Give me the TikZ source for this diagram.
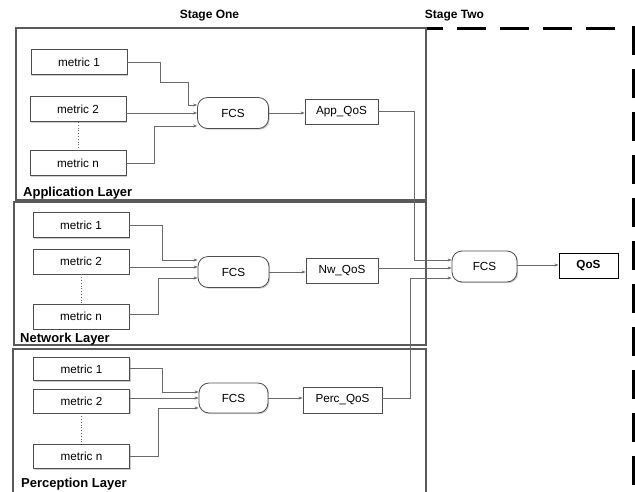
\documentclass[tikz,border=0pt]{standalone}
\usepackage{fontspec}
\setmainfont{Liberation Sans}
\usetikzlibrary{shadows,arrows.meta}
\definecolor{layergray}{HTML}{5A5A5A}
\definecolor{boxgray}{HTML}{4D4D4D}
\definecolor{conngray}{HTML}{6A6A6A}
\tikzset{
  boxshadow/.style={drop shadow={shadow xshift=1.2pt,shadow yshift=-1.2pt,fill=black!40,opacity=0.5}},
  metricbox/.style={draw=boxgray,line width=0.8pt,fill=white,boxshadow,minimum width=96pt,minimum height=25pt,inner sep=0pt,font=\fontsize{11.7}{13}\selectfont},
  fcsbox/.style={draw=boxgray,line width=0.8pt,fill=white,boxshadow,rounded corners=10pt,minimum width=71pt,minimum height=31pt,inner sep=0pt,font=\fontsize{11.7}{13}\selectfont},
  qosbox/.style={draw=boxgray,line width=0.8pt,fill=white,boxshadow,minimum width=73pt,minimum height=25pt,inner sep=0pt,font=\fontsize{11.7}{13}\selectfont},
  conn/.style={draw=conngray,line width=0.6pt,-{Stealth[length=4pt,width=3pt]}},
  dotline/.style={draw=conngray,line width=0.8pt,dotted},
  layerbox/.style={draw=layergray,line width=2.6pt},
  layerlabel/.style={anchor=base west,inner sep=0pt,font=\fontsize{13}{14}\selectfont\bfseries},
  stagelabel/.style={inner sep=0pt,font=\fontsize{12}{13}\selectfont\bfseries},
  stagetwo/.style={draw=black,line width=3pt},
}
\begin{document}
\begin{tikzpicture}[x=1pt,y=-1pt]
\useasboundingbox (0,0) rectangle (635,491);
% stage titles
\node[stagelabel] (s1) at (209.5,16) {Stage One};
\node[stagelabel] (s2) at (454.5,16) {Stage Two};
% stage two dashed frame
\draw[stagetwo,dash pattern=on 29pt off 14pt,dash phase=12pt] (426,28) -- (619,28);
\draw[stagetwo,dash pattern=on 29pt off 14pt] (633,26) -- (633,500);
% layer boxes
\draw[layerbox] (16,28) rectangle (426,200);
\draw[layerbox] (14,202) rectangle (426,345);
\draw[layerbox] (13,349) rectangle (426,510);
\node[layerlabel] (la) at (23,196) {Application Layer};
\node[layerlabel] (ln) at (20,342) {Network Layer};
\node[layerlabel] (lp) at (21,487) {Perception Layer};

% ---------- Application layer
\node[metricbox] (a1) at (79,62) {metric 1};
\node[metricbox] (a2) at (78,109) {metric 2};
\node[metricbox] (an) at (78,163) {metric n};
\node[fcsbox] (afcs) at (233,113) {FCS};
\node[qosbox] (aq) at (341.5,111.5) {App\_QoS};
\draw[dotline] (a2.south) -- (an.north);
\draw[conn] (a1.east) -- (160,62) -- (160,82) -- (188,82) -- (188,105) -- (afcs.west |- 0,105);
\draw[conn] (a2.east |- 0,113) -- (afcs.west |- 0,113);
\draw[conn] (an.east) -- (154,163) -- (154,126) -- (afcs.west |- 0,126);
\draw[conn] (afcs.east) -- (aq.west |- afcs.east);

% ---------- Network layer
\node[metricbox] (n1) at (81,225) {metric 1};
\node[metricbox] (n2) at (81,261.5) {metric 2};
\node[metricbox] (nn) at (81,316.5) {metric n};
\node[fcsbox] (nfcs) at (233.5,272) {FCS};
\node[qosbox,minimum width=72pt] (nq) at (342,270.5) {Nw\_QoS};
\draw[dotline] (n2.south) -- (nn.north);
\draw[conn] (n1.east) -- (162,225) -- (162,260) -- (nfcs.west |- 0,260);
\draw[conn] (n2.east |- 0,267) -- (nfcs.west |- 0,267);
\draw[conn] (nn.east |- 0,314) -- (158,314) -- (158,278) -- (nfcs.west |- 0,278);
\draw[conn] (nfcs.east) -- (nq.west |- nfcs.east);

% ---------- Perception layer
\node[metricbox,minimum height=23pt] (p1) at (81.5,369) {metric 1};
\node[metricbox,minimum height=24pt] (p2) at (81.5,401) {metric 2};
\node[metricbox,minimum height=24pt] (pn) at (81.5,456.5) {metric n};
\node[fcsbox,minimum width=69pt,minimum height=30pt] (pfcs) at (233.5,398) {FCS};
\node[qosbox,minimum width=79pt,minimum height=26pt] (pq) at (342.5,400) {Perc\_QoS};
\draw[dotline] (p2.south) -- (pn.north);
\draw[conn] (p1.east |- 0,368) -- (162,368) -- (162,392) -- (pfcs.west |- 0,392);
\draw[conn] (p2.east |- 0,398) -- (pfcs.west |- 0,398);
\draw[conn] (pn.east |- 0,456) -- (158,456) -- (158,408) -- (pfcs.west |- 0,408);
\draw[conn] (pfcs.east) -- (pq.west |- pfcs.east);

% ---------- Stage two
\node[fcsbox,minimum width=65pt] (fcs) at (484.5,266.5) {FCS};
\node[qosbox,draw=black,line width=1pt,minimum width=59pt,font=\fontsize{11.7}{13}\selectfont\bfseries] (qos) at (588.5,265.5) {QoS};
\draw[conn] (aq.east) -- (414,111.5) -- (414,260) -- (fcs.west |- 0,260);
\draw[conn] (nq.east |- 0,268) -- (fcs.west |- 0,268);
\draw[conn] (pq.east |- 0,398) -- (410,398) -- (410,278) -- (fcs.west |- 0,278);
\draw[conn] (fcs.east |- 0,265) -- (qos.west |- 0,265);
\end{tikzpicture}
\end{document}
